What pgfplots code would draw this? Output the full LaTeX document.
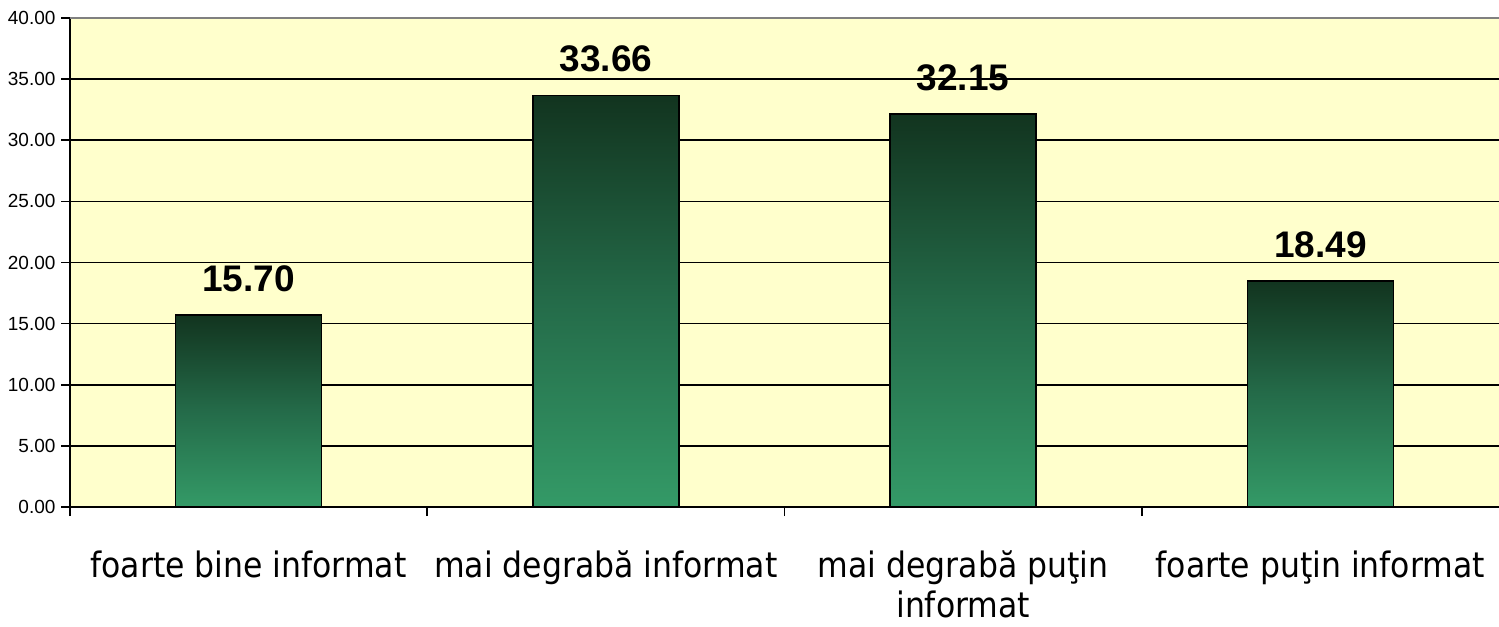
\documentclass[border=0pt]{standalone}
\usepackage{fontspec}
\setmainfont{Liberation Sans}
\newfontfamily\tahoma{DejaVu Sans Condensed}
\usepackage{pgfplots}
\pgfplotsset{compat=1.18}
\definecolor{bg}{HTML}{FFFFCC}
\definecolor{bartop}{HTML}{12341F}
\definecolor{barmid}{HTML}{246B49}
\definecolor{barbot}{HTML}{349A67}
\begin{document}
\begin{tikzpicture}
\begin{axis}[
  name=ax,
  scale only axis,
  width=1429pt, height=489pt,
  xmin=-0.5, xmax=3.5,
  ymin=0, ymax=40,
  axis lines=left,
  axis line style={line width=1.6pt, black, -},
  axis background/.style={fill=bg},
  ytick={0,5,...,35},
  extra y ticks={40},
  extra y tick style={grid style={draw=gray, line width=2.2pt}},
  ymajorgrids,
  grid style={black, line width=1.6pt},
  yticklabel style={font=\fontsize{19}{22}\selectfont, xshift=-2pt},
  /pgf/number format/.cd, fixed, precision=2, zerofill, assume math mode=true,
  /pgfplots/.cd,
  tick align=outside,
  major tick length=9pt,
  tick style={black, line width=1.6pt},
  xtick={-0.5,0.5,1.5,2.5},
  xticklabels={},
  extra x ticks={0,1,2,3},
  extra x tick labels={foarte bine informat, mai degrabă informat, {mai degrabă puţin\\informat}, foarte puţin informat},
  extra x tick style={major tick length=0pt, tick style={draw=none},
    xticklabel style={font=\tahoma\fontsize{35}{40}\selectfont, align=center, anchor=north, yshift=-40pt}},
  ybar,
  bar width=146pt,
  bar shift=0pt,
  nodes near coords,
  every node near coord/.append style={font=\bfseries\fontsize{37}{40}\selectfont, yshift=19pt,
    /pgf/number format/fixed, /pgf/number format/precision=2, /pgf/number format/zerofill},
  clip=false,
]
\pgfplotsset{barstyle/.style={draw=black, line width=1.6pt, top color=bartop, bottom color=barbot, middle color=barmid}}
\addplot[barstyle] coordinates {(0,15.70)};
\addplot[barstyle] coordinates {(1,33.66)};
\addplot[barstyle] coordinates {(2,32.15)};
\addplot[barstyle] coordinates {(3,18.49)};
\end{axis}
\pgfresetboundingbox
\path ([xshift=-70pt,yshift=18pt]ax.north west) rectangle ([yshift=-119pt]ax.south east);
\end{tikzpicture}
\end{document}
